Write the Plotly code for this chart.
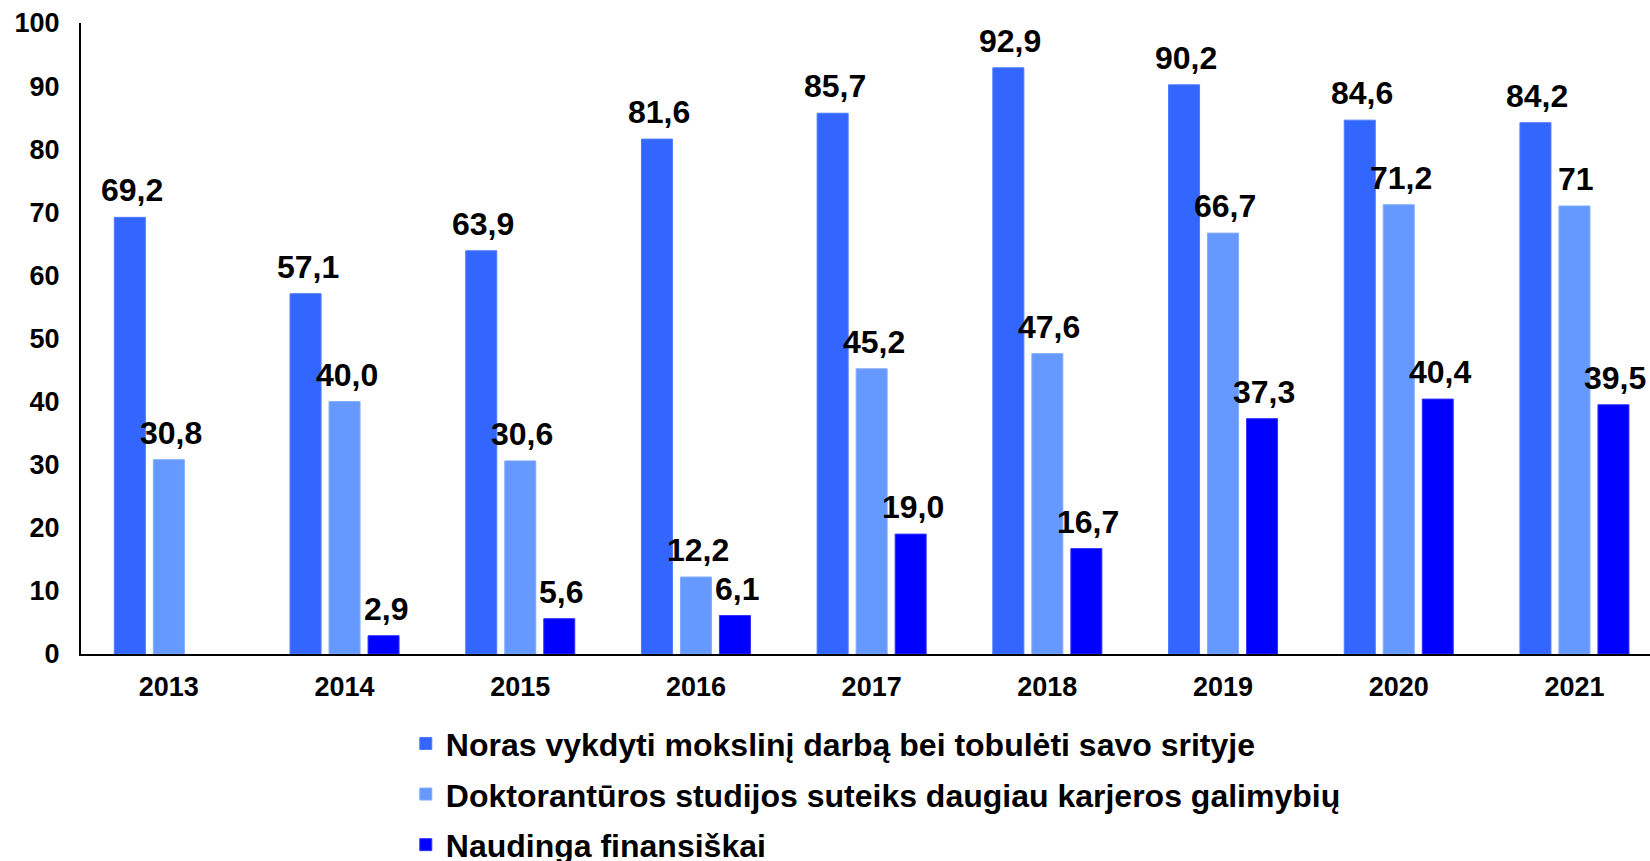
import plotly.graph_objects as go

years = ["2013", "2014", "2015", "2016", "2017", "2018", "2019", "2020", "2021"]
s1_name = "Noras vykdyti mokslinį darbą bei tobulėti savo srityje"
s2_name = "Doktorantūros studijos suteiks daugiau karjeros galimybių"
s3_name = "Naudinga finansiškai"
s1 = [69.2, 57.1, 63.9, 81.6, 85.7, 92.9, 90.2, 84.6, 84.2]
s2 = [30.8, 40.0, 30.6, 12.2, 45.2, 47.6, 66.7, 71.2, 71.0]
s3 = [None, 2.9, 5.6, 6.1, 19.0, 16.7, 37.3, 40.4, 39.5]
s1_labels = ["69,2", "57,1", "63,9", "81,6", "85,7", "92,9", "90,2", "84,6", "84,2"]
s2_labels = ["30,8", "40,0", "30,6", "12,2", "45,2", "47,6", "66,7", "71,2", "71"]
s3_labels = ["", "2,9", "5,6", "6,1", "19,0", "16,7", "37,3", "40,4", "39,5"]
y_ticks = list(range(0, 101, 10))

FONT = "Liberation Sans, Arial, sans-serif"

W, H = 1650, 861
ML, MR, MT, MB = 81, 0, 23, 207
X_RANGE = [-0.5, 8.43]
BARGAP = 0.334
BARGROUPGAP = 0.205

series = [
    (s1_name, s1, s1_labels, "#3366FF", "#4D7AFF", "a"),
    (s2_name, s2, s2_labels, "#6699FF", "#80ADFF", "b"),
    (s3_name, s3, s3_labels, "#0000FF", "#3333FF", "c"),
]

fig = go.Figure()
for name, vals, labels, color, border, grp in series:
    fig.add_trace(go.Bar(
        x=years, y=vals, name=name,
        marker=dict(color=color, line=dict(color=border, width=1)),
        legendgroup=grp, cliponaxis=False,
    ))

# value labels above each bar (positioned from the data through the axes)
px_per_cat = (W - ML - MR) / (X_RANGE[1] - X_RANGE[0])
slot_px = px_per_cat * (1 - BARGAP) / len(series)
for i, (name, vals, labels, color, border, grp) in enumerate(series):
    for j, (v, lab) in enumerate(zip(vals, labels)):
        if v is None or lab == "":
            continue
        fig.add_annotation(
            x=j, y=v, xref="x", yref="y", text=lab, showarrow=False,
            xanchor="center", yanchor="bottom",
            xshift=(i - (len(series) - 1) / 2) * slot_px + 2, yshift=7,
            font=dict(family=FONT, size=32, color="black", weight="bold"),
        )

fig.update_layout(
    width=W, height=H,
    paper_bgcolor="white", plot_bgcolor="white",
    margin=dict(l=ML, r=MR, t=MT, b=MB, autoexpand=False),
    barmode="group", bargap=BARGAP, bargroupgap=BARGROUPGAP,
    font=dict(family=FONT, color="black"),
    showlegend=True,
    legend=dict(
        orientation="v", x=0.207, xanchor="left", y=-0.0985, yanchor="top",
        font=dict(family=FONT, size=32, color="black", weight="bold"),
        tracegroupgap=6, itemwidth=30,
    ),
    xaxis=dict(
        type="category", range=X_RANGE,
        showline=True, linecolor="black", linewidth=2, showgrid=False,
        ticks="", tickfont=dict(family=FONT, size=27, color="black", weight="bold"),
        ticklabelstandoff=8,
    ),
    yaxis=dict(
        range=[0, 100], tickvals=y_ticks, showline=True, linecolor="black", linewidth=2,
        showgrid=False, zeroline=False, ticks="",
        tickfont=dict(family=FONT, size=27, color="black", weight="bold"),
        ticklabelstandoff=14,
    ),
)

fig.write_html(
    "out.html",
    config={"displayModeBar": False},
    post_script="document.body.style.margin='0';document.body.style.overflow='hidden';",
)
